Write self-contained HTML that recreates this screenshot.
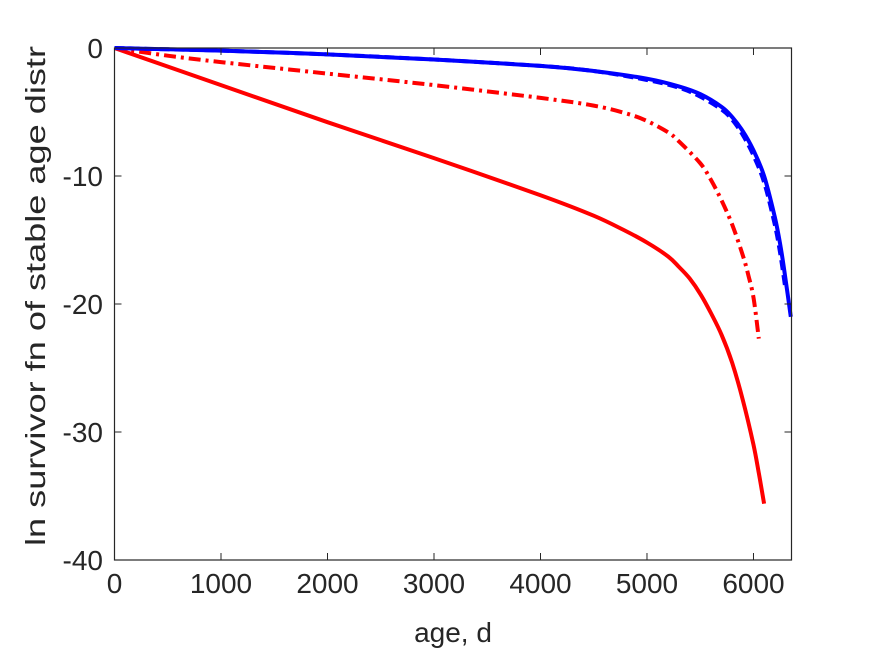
<!DOCTYPE html>
<html><head><meta charset="utf-8"><style>
html,body{margin:0;padding:0;background:#fff;}
svg text{font-family:"Liberation Sans",Arial,sans-serif;fill:#262626;}
</style></head><body>
<svg id="chart" width="875" height="656" viewBox="0 0 875 656" xmlns="http://www.w3.org/2000/svg">
<rect x="0" y="0" width="875" height="656" fill="#fff"/>
<g id="plot"></g>
<g id="axes"></g>
</svg>
<script>
const xTicks=[0,1000,2000,3000,4000,5000,6000];
const yTicks=[0,-10,-20,-30,-40];
const blueSolidX=[0,500,1000,2000,3000,4000,4500,5000,5300,5500,5700,5800,5900,6000,6100,6200,6250,6300,6350];
const blueSolidY=[0,-0.1,-0.2,-0.5,-0.9,-1.4,-1.8,-2.4,-3.0,-3.6,-4.6,-5.4,-6.5,-8.0,-10.0,-13.2,-15.3,-18.0,-21.0];
const blueDashX=[0,500,1000,2000,3000,4000,4500,5000,5300,5500,5700,5800,5900,6000,6100,6200,6250,6300];
const blueDashY=[0,-0.1,-0.2,-0.5,-0.9,-1.4,-1.8,-2.5,-3.1,-3.8,-4.8,-5.6,-6.8,-8.4,-10.5,-13.8,-16.0,-18.8];
const redDashX=[0,500,1000,2000,3000,4000,4500,4800,5000,5200,5300,5500,5600,5700,5800,5900,5950,6000,6050];
const redDashY=[0,-0.6,-1.1,-2.0,-2.9,-3.9,-4.5,-5.1,-5.7,-6.6,-7.3,-9.0,-10.3,-11.9,-13.8,-16.2,-17.7,-19.5,-22.7];
const redSolidX=[0,1000,2000,3000,4000,4500,4800,5000,5200,5300,5400,5500,5600,5700,5800,5900,6000,6050,6100];
const redSolidY=[0,-2.9,-5.8,-8.6,-11.5,-13.1,-14.3,-15.2,-16.3,-17.1,-18.0,-19.2,-20.7,-22.4,-24.6,-27.5,-31.0,-33.2,-35.6];

const L=114.5,R=791.5,T=48,B=560;
const xMax=6357;
const sx=v=>L+(v/xMax)*(R-L);
const sy=v=>T+(0-v)/40*(B-T);
const NS="http://www.w3.org/2000/svg";
const plot=document.getElementById('plot'),axes=document.getElementById('axes');
function mk(tag,attrs,parent){const e=document.createElementNS(NS,tag);for(const k in attrs)e.setAttribute(k,attrs[k]);parent.appendChild(e);return e;}

function smoothPath(xs,ys){
  const P=xs.map((x,i)=>[sx(x),sy(ys[i])]);
  let d='M'+P[0][0].toFixed(1)+','+P[0][1].toFixed(1);
  for(let i=0;i<P.length-1;i++){
    const p0=P[i-1]||P[i],p1=P[i],p2=P[i+1],p3=P[i+2]||P[i+1];
    const c1=[p1[0]+(p2[0]-p0[0])/6,p1[1]+(p2[1]-p0[1])/6];
    const c2=[p2[0]-(p3[0]-p1[0])/6,p2[1]-(p3[1]-p1[1])/6];
    d+=' C'+c1[0].toFixed(1)+','+c1[1].toFixed(1)+' '+c2[0].toFixed(1)+','+c2[1].toFixed(1)+' '+p2[0].toFixed(1)+','+p2[1].toFixed(1);
  }
  return d;
}
function line(xs,ys,color,dash,name){
  const p=mk('path',{d:smoothPath(xs,ys),fill:'none',stroke:color,'stroke-width':4,'stroke-linejoin':'round'},plot);
  if(dash)p.setAttribute('stroke-dasharray',dash);
  
  
}
line(redSolidX,redSolidY,'#ff0000',null,'red-solid-line');
line(redDashX,redDashY,'#ff0000','12,5,3,5','red-dashdot-line');
line(blueDashX,blueDashY,'#0000ff','10,5','blue-dashed-line');
line(blueSolidX,blueSolidY,'#0000ff',null,'blue-solid-line');

const box=mk('rect',{x:L,y:T,width:R-L,height:B-T,fill:'none',stroke:'#262626','stroke-width':1.2},axes);



xTicks.forEach(v=>{
  const x=sx(v);
  mk('line',{x1:x,y1:B,x2:x,y2:B-7,stroke:'#262626','stroke-width':1},axes);
  mk('line',{x1:x,y1:T,x2:x,y2:T+7,stroke:'#262626','stroke-width':1},axes);
  const t=mk('text',{x:x,y:593,'font-size':28,'text-anchor':'middle'},axes);
  t.textContent=v;
  
  
});
yTicks.forEach(v=>{
  const y=sy(v);
  mk('line',{x1:L,y1:y,x2:L+7,y2:y,stroke:'#262626','stroke-width':1},axes);
  mk('line',{x1:R,y1:y,x2:R-7,y2:y,stroke:'#262626','stroke-width':1},axes);
  const t=mk('text',{x:103,y:y+10,'font-size':28,'text-anchor':'end'},axes);
  t.textContent=v;
  
  
});
const xl=mk('text',{x:453,y:642,'font-size':28,'text-anchor':'middle'},axes);
xl.textContent='age, d';


const yl=mk('text',{x:0,y:0,'font-size':28,'text-anchor':'middle',transform:'translate(45,296) rotate(-90)',textLength:500,lengthAdjust:'spacingAndGlyphs'},axes);
yl.textContent='ln survivor fn of stable age distr';


</script>
</body></html>
